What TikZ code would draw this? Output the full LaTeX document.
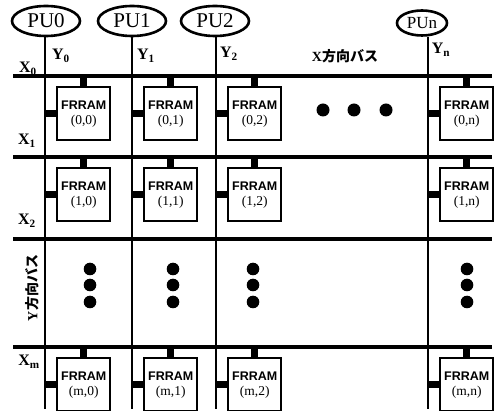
\documentclass[tikz,border=0pt]{standalone}
\usepackage{fontspec}
\setmainfont{Liberation Serif}
\setsansfont{Liberation Sans}
\newfontfamily\jpfont{Noto Sans CJK JP}
\usetikzlibrary{shapes.geometric,positioning}

\begin{document}
\begin{tikzpicture}[x=1pt, y=-1pt,
  pu/.style={draw, ellipse, line width=2.6pt, inner sep=0pt, minimum width=68pt, minimum height=30pt, font=\fontsize{21}{21}\selectfont},
  frram/.style={draw, line width=2.4pt, minimum width=53pt, minimum height=53pt, inner sep=0pt, align=center, anchor=north west, font=\fontsize{13.5}{15}\selectfont},
  xbus/.style={line width=4pt},
  ybus/.style={line width=2.6pt},
  stub/.style={line width=7pt},
  buslabel/.style={inner sep=0pt, font=\fontsize{16}{16}\selectfont\bfseries}]
\useasboundingbox (0,0) rectangle (498,411);
\foreach \r/\y in {0/76, 1/157, 2/239, m/347} {
  \coordinate (x\r-w) at (13,\y);
  \coordinate (x\r-e) at (492,\y);
  \draw[xbus] (x\r-w) -- (x\r-e);
}
\foreach \c/\x/\px in {0/45/46, 1/132/132, 2/216/215} {
  \coordinate (y\c-s) at (\x,409);
  \node[pu] (pu\c) at (\px,21) {PU\c};
}
\coordinate (yn-s) at (428,409);
\node[pu, minimum width=50pt, minimum height=25pt, font=\fontsize{17}{17}\selectfont] (pun) at (422,23) {PUn};
\foreach \c in {0,1,2,n} {\draw[ybus] (y\c-s |- pu\c.south) -- (y\c-s);}
\foreach \r/\y in {0/76, 1/157, m/347} {
  \foreach \c/\x in {0/45, 1/132, 2/216, n/428} {
    \node[frram] (b\r\c) at (\x+11,\y+10) {{\sffamily\bfseries\fontsize{12.5}{15}\selectfont FRRAM}\\(\r,\c)};
    \draw[stub] (b\r\c.north) -- (b\r\c.north |- x\r-w);
    \draw[stub] (b\r\c.west) -- (b\r\c.west -| y\c-s);
  }
}
\foreach \c/\x/\y in {0/61/56, 1/146/56, 2/229/54, n/441/50} {\node[buslabel] (ylab\c) at (\x,\y) {Y\textsubscript{\c}};}
\foreach \r/\x/\y in {0/28/69, 1/27/141, 2/27/221, m/29/362} {\node[buslabel] (xlab\r) at (\x,\y) {X\textsubscript{\r}};}
\node[buslabel, font=\fontsize{14}{14}\selectfont\bfseries] (xname) at (345,56) {X{\jpfont 方向バス}};
\node[buslabel, font=\fontsize{14}{14}\selectfont\bfseries, rotate=90] (yname) at (32,288) {Y{\jpfont 方向バス}};
\foreach \x in {323,354,386} {\fill (\x,110) circle (6.5);}
\foreach \x in {90,173,253,467} {
  \foreach \y in {269,285,302} {\fill (\x,\y) circle (6.3);}
}
\end{tikzpicture}
\end{document}
